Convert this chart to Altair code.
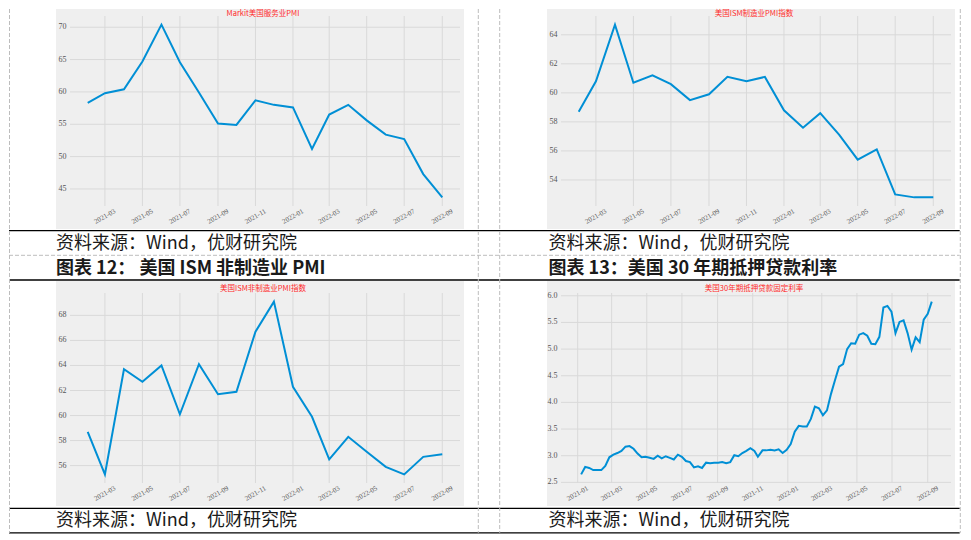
import altair as alt
import pandas as pd

# ---------------- data ----------------
MONTHS = ["2021-02-01", "2021-03-01", "2021-04-01", "2021-05-01", "2021-06-01",
          "2021-07-01", "2021-08-01", "2021-09-01", "2021-10-01", "2021-11-01",
          "2021-12-01", "2022-01-01", "2022-02-01", "2022-03-01", "2022-04-01",
          "2022-05-01", "2022-06-01", "2022-07-01", "2022-08-01", "2022-09-01"]
SERVICES_PMI = [58.3, 59.8, 60.4, 64.7, 70.4, 64.6, 59.9, 55.1, 54.9, 58.7,
                58.0, 57.6, 51.2, 56.5, 58.0, 55.6, 53.4, 52.7, 47.3, 43.7]
ISM_MFG = [58.7, 60.8, 64.7, 60.7, 61.2, 60.6, 59.5, 59.9, 61.1, 60.8,
           61.1, 58.8, 57.6, 58.6, 57.1, 55.4, 56.1, 53.0, 52.8, 52.8]
ISM_NONMFG = [58.7, 55.3, 63.7, 62.7, 64.0, 60.1, 64.1, 61.7, 61.9, 66.7,
              69.1, 62.3, 59.9, 56.5, 58.3, 57.1, 55.9, 55.3, 56.7, 56.9]

MORTGAGE_DATES = [
    "2021-01-07", "2021-01-14", "2021-01-21", "2021-01-28", "2021-02-04", "2021-02-11",
    "2021-02-18", "2021-02-25", "2021-03-04", "2021-03-11", "2021-03-18", "2021-03-25",
    "2021-04-01", "2021-04-08", "2021-04-15", "2021-04-22", "2021-04-29", "2021-05-06",
    "2021-05-13", "2021-05-20", "2021-05-27", "2021-06-03", "2021-06-10", "2021-06-17",
    "2021-06-24", "2021-07-01", "2021-07-08", "2021-07-15", "2021-07-22", "2021-07-29",
    "2021-08-05", "2021-08-12", "2021-08-19", "2021-08-26", "2021-09-02", "2021-09-09",
    "2021-09-16", "2021-09-23", "2021-09-30", "2021-10-07", "2021-10-14", "2021-10-21",
    "2021-10-28", "2021-11-04", "2021-11-10", "2021-11-18", "2021-11-24", "2021-12-02",
    "2021-12-09", "2021-12-16", "2021-12-23", "2021-12-30",
    "2022-01-06", "2022-01-13", "2022-01-20", "2022-01-27", "2022-02-03", "2022-02-10",
    "2022-02-17", "2022-02-24", "2022-03-03", "2022-03-10", "2022-03-17", "2022-03-24",
    "2022-03-31", "2022-04-07", "2022-04-14", "2022-04-21", "2022-04-28", "2022-05-05",
    "2022-05-12", "2022-05-19", "2022-05-26", "2022-06-02", "2022-06-09", "2022-06-16",
    "2022-06-23", "2022-06-30", "2022-07-07", "2022-07-14", "2022-07-21", "2022-07-28",
    "2022-08-04", "2022-08-11", "2022-08-18", "2022-08-25", "2022-09-01", "2022-09-08"]
MORTGAGE_RATE = [
    2.65, 2.79, 2.77, 2.73, 2.73, 2.73, 2.81, 2.97, 3.02, 3.05, 3.09, 3.17,
    3.18, 3.13, 3.04, 2.97, 2.98, 2.96, 2.94, 3.00, 2.95, 2.99, 2.96, 2.93,
    3.02, 2.98, 2.90, 2.88, 2.78, 2.80, 2.77, 2.87, 2.86, 2.87, 2.87, 2.88,
    2.86, 2.88, 3.01, 2.99, 3.05, 3.09, 3.14, 3.09, 2.98, 3.10, 3.10, 3.11,
    3.10, 3.12, 3.05, 3.11,
    3.22, 3.45, 3.56, 3.55, 3.55, 3.69, 3.92, 3.89, 3.76, 3.85, 4.16, 4.42,
    4.67, 4.72, 5.00, 5.11, 5.10, 5.27, 5.30, 5.25, 5.10, 5.09, 5.23, 5.78,
    5.81, 5.70, 5.30, 5.51, 5.54, 5.30, 4.99, 5.22, 5.13, 5.55, 5.66, 5.89]

XTICKS_A = ["2021-03-01", "2021-05-01", "2021-07-01", "2021-09-01", "2021-11-01",
            "2022-01-01", "2022-03-01", "2022-05-01", "2022-07-01", "2022-09-01"]
XTICKS_B = ["2021-01-01"] + XTICKS_A
YTICKS_SVC = [45, 50, 55, 60, 65, 70]
YTICKS_MFG = [54, 56, 58, 60, 62, 64]
YTICKS_NON = [56, 58, 60, 62, 64, 66, 68]
YTICKS_RATE = [2.5, 3.0, 3.5, 4.0, 4.5, 5.0, 5.5, 6.0]

TITLE_TL = "Markit美国服务业PMI"
TITLE_TR = "美国ISM制造业PMI指数"
TITLE_BL = "美国ISM非制造业PMI指数"
TITLE_BR = "美国30年期抵押贷款固定利率"
SOURCE = "资料来源：Wind，优财研究院"
FIG12 = "图表 12：  美国 ISM 非制造业 PMI"
FIG13 = "图表 13：美国 30 年期抵押贷款利率"

# ---------------- style ----------------
LINE = "#008fd5"
BG = "#efefef"
GRID = "#d9d9d9"
RED = "#ff2a2a"
LABEL = "#555555"
CJK = "Noto Sans CJK SC"
SERIF = "Liberation Serif"
W, H = 390, 190
ONE = [{"k": 0}]


def dt(s, hours=0):
    y, m, d = (int(p) for p in s.split("-"))
    return alt.DateTime(year=y, month=m, date=d, hours=hours, utc=True)


def deco():
    return alt.Chart(alt.Data(values=ONE))


def hline(x1, x2, y, color="black", width=1.3, dash=None):
    kw = dict(color=color, strokeWidth=width)
    if dash:
        kw["strokeDash"] = dash
    return deco().mark_rule(**kw).encode(x=alt.value(x1), x2=alt.value(x2), y=alt.value(y))


def vline(x, y1, y2, color="#bdbdbd", width=1, dash=(4, 2)):
    return deco().mark_rule(color=color, strokeWidth=width, strokeDash=list(dash)).encode(
        x=alt.value(x), y=alt.value(y1), y2=alt.value(y2))


def text(s, x, y, size=18, weight="normal", color="#1a1a1a", align="left"):
    return deco().mark_text(text=s, align=align, baseline="middle", font=CJK,
                            fontSize=size, fontWeight=weight, color=color).encode(
        x=alt.value(x), y=alt.value(y))


def panel(dates, values, title, xticks, yticks, xdom, ydom, yfmt, bg_top, title_y,
          xrange=None, extras=()):
    xs_kw = dict(type="utc", domain=xdom, nice=False)
    if xrange:
        xs_kw["range"] = xrange
    xs = alt.Scale(**xs_kw)
    ys = alt.Scale(domain=ydom, nice=False, zero=False)

    bg = deco().mark_rect(color=BG).encode(
        x=alt.value(-14), x2=alt.value(394), y=alt.value(bg_top), y2=alt.value(213))
    xdf = pd.DataFrame({"t": xticks, "lab": [t[:7] for t in xticks]})
    ydf = pd.DataFrame({"v": yticks})
    gx = alt.Chart(xdf).mark_rule(color=GRID, strokeWidth=1).encode(
        x=alt.X("t:T", scale=xs, axis=None))
    gy = alt.Chart(ydf).mark_rule(color=GRID, strokeWidth=1).encode(
        y=alt.Y("v:Q", scale=ys, axis=None))
    df = pd.DataFrame({"date": dates, "value": values})
    line = alt.Chart(df).mark_line(color=LINE, strokeWidth=2).encode(
        x=alt.X("date:T", scale=xs, axis=None),
        y=alt.Y("value:Q", scale=ys, axis=None))
    xlab = alt.Chart(xdf).mark_text(angle=330, align="center", baseline="middle",
                                    font=SERIF, fontSize=7, color=LABEL).encode(
        x=alt.X("t:T", scale=xs, axis=None),
        y=alt.value(H + 10.5),
        text=alt.Text("lab:N"))
    ylab = alt.Chart(ydf).mark_text(align="right", baseline="middle",
                                    font=SERIF, fontSize=8, color=LABEL).encode(
        y=alt.Y("v:Q", scale=ys, axis=None),
        x=alt.value(-3.5),
        text=alt.Text("v:Q", format=yfmt))
    ttl = text(title, 193, title_y, size=7.5, color=RED, align="center")
    return alt.layer(bg, gx, gy, line, xlab, ylab, ttl, *extras).properties(width=W, height=H)


# table lines, in top-left panel coordinates (panel origin = page 69,15)
table = [
    hline(-61, 889.7, 214.7),
    hline(-61, 889.7, 239.3, color="#bdbdbd", width=1, dash=[4, 2]),
    hline(-61, 889.7, 264),
    hline(-61, 889.7, 492.3),
    hline(-61, 889.7, 516.8),
    vline(-60.5, -7, 516.8),
    vline(408.3, -7, 516.8),
    vline(429.7, -7, 516.8),
    vline(890.3, -7, 516.8),
]

dom_a = [dt("2021-01-03", 4), dt("2022-09-29", 20)]
dom_b = [dt("2020-12-07", 13), dt("2022-10-08", 11)]

tl = panel(MONTHS, SERVICES_PMI, TITLE_TL, XTICKS_A, YTICKS_SVC, dom_a,
           [42.365, 71.735], "d", -7, -2.3,
           extras=[text(SOURCE, -14, 227.6), text(FIG12, -14, 252.7, weight="bold")] + table)
tr = panel(MONTHS, ISM_MFG, TITLE_TR, XTICKS_A, YTICKS_MFG, dom_a,
           [52.205, 65.295], "d", -7, -2.3,
           extras=[text(SOURCE, -12.5, 227.6), text(FIG13, -12.5, 252.7, weight="bold")])
bl = panel(MONTHS, ISM_NONMFG, TITLE_BL, XTICKS_A, YTICKS_NON, dom_a,
           [54.61, 69.79], "d", -12, -4.1,
           extras=[text(SOURCE, -14, 227.7)])
br = panel(MORTGAGE_DATES, MORTGAGE_RATE, TITLE_BR, XTICKS_B, YTICKS_RATE, dom_b,
           [2.488, 6.052], ".1f", -12, -4.1, xrange=[2.6, 388.3],
           extras=[text(SOURCE, -12.5, 227.7)])

chart = alt.concat(
    tl, tr, bl, br, columns=2,
    spacing=alt.RowColnumber(row=87, column=101),
    bounds="flush",
).properties(padding=0, background="white").configure_view(stroke=None)

chart.save("out.html", embed_options={"renderer": "svg", "actions": False})
